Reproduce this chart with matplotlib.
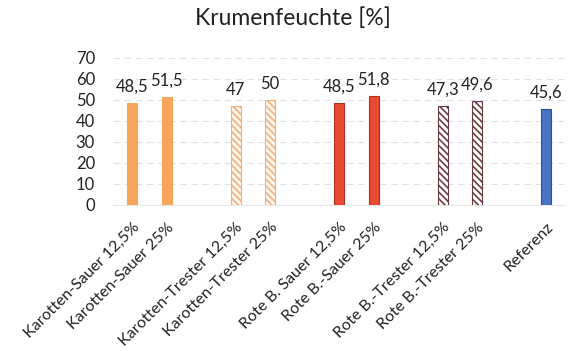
import matplotlib.pyplot as plt

plt.rcParams["font.family"] = ["Lato", "DejaVu Sans"]
plt.rcParams["hatch.linewidth"] = 1.2

# values
categories = [
    "Karotten-Sauer 12,5%", "Karotten-Sauer 25%",
    "Karotten-Trester 12,5%", "Karotten-Trester 25%",
    "Rote B. Sauer 12,5%", "Rote B.-Sauer 25%",
    "Rote B.-Trester 12,5%", "Rote B.-Trester 25%",
    "Referenz",
]
values = [48.5, 51.5, 47, 50, 48.5, 51.8, 47.3, 49.6, 45.6]
value_labels = ["48,5", "51,5", "47", "50", "48,5", "51,8", "47,3", "49,6", "45,6"]

face_colors = ["#f6a55a", "#f6a55a", "#fff6ee", "#fff6ee",
               "#ea4a34", "#ea4a34", "#ffffff", "#ffffff", "#4a72c6"]
edge_colors = ["#f6a55a", "#f6a55a", "#f2b07a", "#f2b07a",
               "#b0301f", "#b0301f", "#6b3a3e", "#6b3a3e", "#2f4f8f"]
hatches = [None, None, "\\\\\\\\\\", "\\\\\\\\\\", None, None, "\\\\\\\\\\", "\\\\\\\\\\", None]

# pairs are separated by an empty slot
positions = [i + i // 2 for i in range(len(categories))]

fig = plt.figure(figsize=(5.68, 3.51), dpi=100)
ax = fig.add_axes([0.199, 0.416, 0.796, 0.419])

for x, v, fc, ec, h in zip(positions, values, face_colors, edge_colors, hatches):
    ax.bar(x, v, width=0.29, color=fc, edgecolor=ec, hatch=h, linewidth=0.8, zorder=3)

for x, v, lab in zip(positions, values, value_labels):
    ax.annotate(lab, (x, v), xytext=(0, 6), textcoords="offset points",
                ha="center", va="bottom", fontsize=12, color="#222222")

ax.set_ylim(0, 70)
ax.set_xlim(-0.55, 12.55)
ax.set_yticks(range(0, 71, 10))
ax.set_xticks(positions)
ax.set_xticklabels(categories, rotation=45, ha="right", rotation_mode="anchor",
                   fontsize=11.5, color="#222222")
ax.tick_params(axis="y", labelsize=12, colors="#222222", length=0, pad=13)
ax.tick_params(axis="x", length=0, pad=11)
ax.grid(axis="y", color="#e2e2e2", linewidth=0.8, linestyle=(0, (6, 4)), zorder=0)
for side in ["top", "right", "left"]:
    ax.spines[side].set_visible(False)
ax.spines["bottom"].set_color("#e6e6e6")

fig.suptitle("Krumenfeuchte [%]", fontsize=16.5, color="#222222", x=0.515, y=0.98)

fig.savefig("out.png", dpi=100)
